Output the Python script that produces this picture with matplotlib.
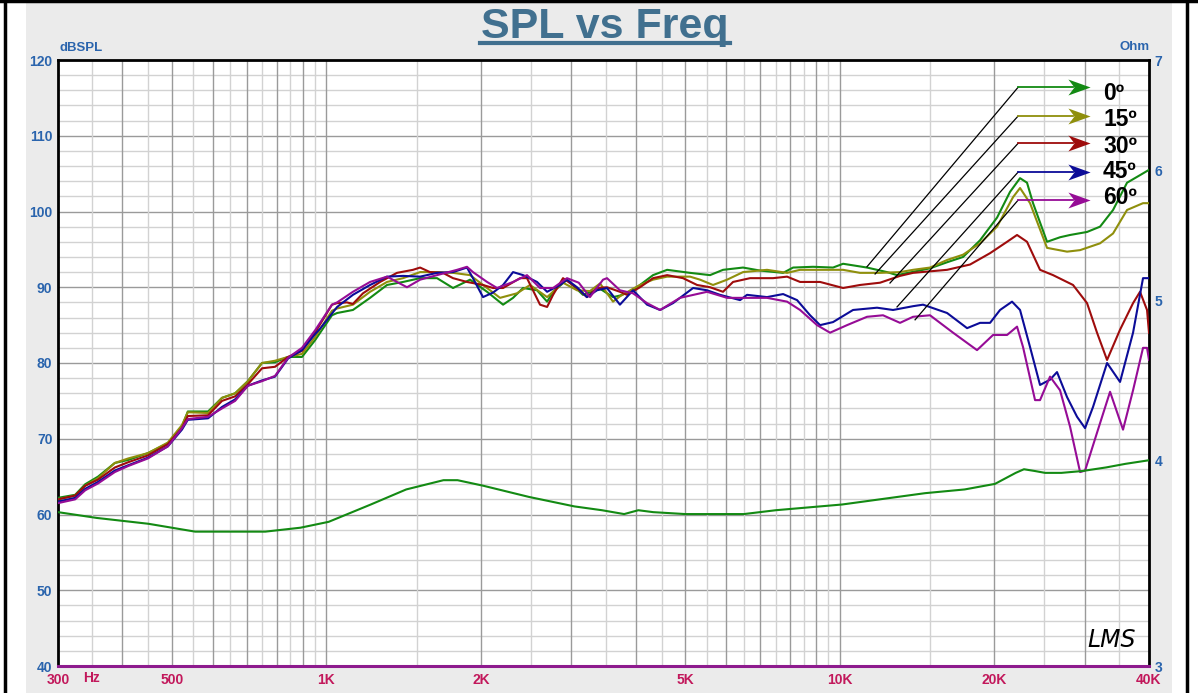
import matplotlib
matplotlib.use("Agg")
from matplotlib import pyplot as plt
from matplotlib.lines import Line2D
from matplotlib.patches import Rectangle
from matplotlib.path import Path
from matplotlib.transforms import ScaledTranslation
from matplotlib.ticker import NullLocator

plt.rcParams["font.family"] = ["Liberation Sans", "DejaVu Sans"]

# impedance curve (Ohm, right axis)
IMP_FREQ = [300, 357, 450, 555, 650, 760, 890, 1010, 1220, 1430, 1690, 1800, 2020,
            2480, 3040, 3440, 3800, 4050, 4330, 5000, 5500, 6500, 7500, 10100, 14650,
            17500, 20050, 22000, 22830, 24000, 25100, 27000, 29630, 33000, 36000, 40000]
IMP_OHM = [3.72, 3.69, 3.66, 3.62, 3.62, 3.62, 3.64, 3.67, 3.76, 3.84, 3.89, 3.89, 3.86,
           3.80, 3.75, 3.73, 3.71, 3.73, 3.72, 3.71, 3.71, 3.71, 3.73, 3.76, 3.82,
           3.84, 3.87, 3.93, 3.95, 3.94, 3.93, 3.93, 3.94, 3.96, 3.98, 4.00]

# SPL curves (dB)
FREQ_0 = [300, 324, 339, 359, 387, 411, 449, 491, 523, 537, 588, 626, 664, 703, 749, 794,
          842, 896, 950, 1025, 1049, 1126, 1216, 1312, 1410, 1522, 1642, 1764, 1904, 2055,
          2208, 2309, 2415, 2571, 2690, 2763, 2941, 3159, 3411, 3615, 3729, 3954, 4080, 4326,
          4608, 5107, 5586, 5921, 6477, 6993, 7752, 8107, 8866, 9697, 10144, 11294, 12355,
          12922, 14982, 16173, 17376, 18749, 20236, 21451, 22433, 23147, 23780, 25321, 26840,
          28073, 30298, 32118, 34044, 36247, 38421, 40000]
SPL_0 = [62.2, 62.6, 64.0, 65.0, 66.8, 67.2, 68.1, 69.4, 71.6, 73.6, 73.6, 75.4, 76.0, 77.6,
         80.0, 80.1, 80.8, 80.8, 83.0, 86.3, 86.6, 87.0, 88.6, 90.3, 90.7, 91.2, 91.2, 89.9,
         91.0, 89.4, 87.7, 88.6, 89.9, 89.6, 88.1, 89.4, 91.0, 89.0, 89.8, 88.7, 88.9, 89.6,
         90.3, 91.6, 92.3, 91.9, 91.6, 92.3, 92.6, 92.2, 91.9, 92.6, 92.7, 92.6, 93.1, 92.6,
         92.0, 91.6, 92.5, 93.3, 94.0, 96.2, 99.2, 102.6, 104.4, 103.8, 101.1, 96.0, 96.6,
         96.9, 97.3, 98.0, 100.2, 103.8, 104.8, 105.5]

FREQ_15 = [300, 324, 339, 359, 387, 411, 449, 491, 523, 537, 588, 626, 664, 703, 749, 794,
           842, 896, 950, 1025, 1049, 1126, 1216, 1312, 1410, 1522, 1642, 1764, 1904, 2055,
           2178, 2350, 2492, 2690, 2889, 3076, 3260, 3411, 3615, 3729, 3954, 4080, 4326, 4608,
           5107, 5341, 5661, 6030, 6477, 7212, 7891, 8365, 9150, 10144, 10944, 11973, 13096,
           13883, 14982, 16173, 17376, 18749, 20236, 21743, 22433, 23463, 25321, 27698, 29365,
           32118, 34044, 36247, 38941, 40000]
SPL_15 = [62.0, 62.5, 63.8, 64.8, 66.8, 67.4, 68.1, 69.5, 71.8, 73.5, 73.4, 75.4, 76.0, 77.6,
          80.0, 80.3, 80.8, 81.2, 83.4, 86.9, 87.2, 87.7, 89.4, 90.7, 91.2, 92.0, 92.0, 91.9,
          91.6, 89.9, 88.6, 89.2, 90.3, 88.7, 90.6, 89.6, 89.5, 90.5, 88.1, 88.8, 89.8, 90.3,
          91.0, 91.4, 91.4, 91.0, 90.3, 91.0, 92.0, 92.3, 91.9, 92.3, 92.3, 92.3, 91.9, 91.9,
          92.0, 92.3, 92.6, 93.6, 94.3, 95.8, 98.0, 101.9, 103.1, 101.1, 95.2, 94.7, 94.9,
          95.8, 97.1, 100.2, 101.1, 101.1]

FREQ_30 = [300, 324, 339, 359, 387, 411, 449, 491, 523, 537, 588, 626, 664, 703, 749, 794,
           842, 896, 950, 1025, 1049, 1096, 1126, 1178, 1272, 1372, 1474, 1522, 1591, 1686,
           1764, 1878, 2018, 2111, 2208, 2383, 2458, 2606, 2690, 2763, 2889, 3076, 3216, 3365,
           3519, 3729, 3848, 4080, 4326, 4608, 4948, 5271, 5586, 5921, 6193, 6684, 7409, 7891,
           8365, 9150, 10144, 10944, 11973, 13096, 13883, 16173, 17929, 19611, 21164, 22133,
           23147, 24537, 26013, 28452, 30298, 31684, 33142, 35128, 37238, 38421, 39648, 40000]
SPL_30 = [62.0, 62.5, 63.8, 64.6, 66.2, 66.9, 67.8, 69.3, 71.4, 73.0, 73.1, 75.0, 75.6, 77.2,
          79.3, 79.5, 80.8, 81.6, 84.0, 87.7, 87.9, 88.0, 87.8, 89.2, 90.7, 91.9, 92.3, 92.6,
          92.0, 91.9, 91.2, 90.7, 90.3, 89.9, 89.9, 91.2, 91.2, 87.7, 87.4, 89.0, 91.2, 89.9,
          88.7, 89.9, 90.0, 89.4, 89.0, 90.0, 91.2, 91.6, 91.2, 90.3, 90.0, 89.4, 90.7, 91.2,
          91.2, 91.4, 90.7, 90.7, 89.9, 90.3, 90.6, 91.5, 91.9, 92.3, 93.0, 94.5, 96.0, 96.9,
          96.0, 92.3, 91.6, 90.3, 87.9, 84.0, 80.4, 84.4, 87.9, 89.4, 87.0, 84.0]

FREQ_45 = [300, 324, 339, 359, 387, 411, 449, 491, 523, 537, 588, 626, 664, 703, 749, 794,
           842, 896, 950, 971, 1049, 1126, 1216, 1312, 1410, 1522, 1642, 1764, 1878, 1929,
           2018, 2111, 2208, 2309, 2415, 2571, 2690, 2851, 2941, 3076, 3216, 3365, 3519, 3729,
           3954, 4212, 4465, 4731, 5177, 5512, 5842, 6391, 6594, 7212, 7752, 8253, 8749, 9150,
           9697, 10607, 11812, 12692, 13883, 14521, 16173, 17691, 18749, 19611, 20510, 21643,
           22433, 23463, 24537, 25663, 26479, 27698, 28968, 30028, 31120, 33142, 35128, 37238,
           38941, 40000]
SPL_45 = [61.7, 62.2, 63.4, 64.3, 65.8, 66.5, 67.5, 69.0, 71.2, 72.5, 72.7, 74.2, 75.2, 77.0,
          77.7, 78.2, 80.6, 81.7, 83.8, 84.5, 87.4, 89.0, 90.3, 91.4, 91.5, 91.4, 91.9, 92.0,
          92.6, 91.2, 88.7, 89.3, 90.3, 92.0, 91.6, 90.7, 89.4, 90.3, 91.0, 90.0, 88.7, 89.6,
          89.9, 87.7, 89.6, 87.7, 87.0, 87.9, 89.9, 89.6, 89.0, 88.3, 89.0, 88.7, 89.1, 88.3,
          86.3, 85.0, 85.4, 87.0, 87.3, 87.0, 87.5, 87.7, 86.6, 84.6, 85.3, 85.3, 87.0, 88.1,
          87.0, 82.1, 77.1, 77.8, 78.8, 75.5, 72.9, 71.4, 74.2, 80.0, 77.5, 84.0, 91.2, 91.2]

FREQ_60 = [300, 324, 339, 359, 387, 411, 449, 491, 523, 537, 588, 626, 664, 703, 749, 794,
           842, 896, 950, 1025, 1049, 1126, 1216, 1312, 1372, 1435, 1522, 1642, 1796, 1878,
           1929, 2055, 2149, 2309, 2458, 2606, 2763, 2941, 3100, 3260, 3457, 3519, 3729, 3954,
           4212, 4465, 4882, 5512, 6030, 6594, 7212, 7891, 8365, 9027, 9568, 10327, 11294,
           12134, 13096, 13883, 14982, 16613, 18497, 19876, 21164, 22133, 22737, 23994, 24537,
           25663, 26840, 28073, 29365, 30028, 31684, 33590, 35603, 37238, 38941, 39648, 40000]
SPL_60 = [61.5, 62.0, 63.2, 64.1, 65.6, 66.4, 67.4, 69.0, 71.4, 72.6, 72.9, 74.0, 75.0, 77.0,
          77.6, 78.3, 80.7, 82.0, 84.3, 87.7, 88.0, 89.4, 90.7, 91.4, 90.7, 90.0, 91.0, 91.6,
          92.3, 92.7, 92.0, 90.7, 89.9, 90.7, 91.6, 89.9, 89.9, 91.2, 90.6, 88.7, 91.0, 91.2,
          89.6, 89.2, 87.9, 87.0, 88.6, 89.4, 88.6, 88.6, 88.6, 88.1, 87.0, 85.0, 84.0, 85.0,
          86.1, 86.3, 85.3, 86.1, 86.3, 84.0, 81.7, 83.7, 83.7, 84.8, 82.1, 75.1, 75.1, 78.2,
          76.4, 71.6, 65.6, 65.8, 70.8, 76.2, 71.2, 76.4, 82.0, 82.0, 80.4]

LABELS = ["0º", "15º", "30º", "45º", "60º"]
COLORS = ["#138a13", "#8f8f0c", "#9e0c0c", "#0c0c98", "#960c96"]

W, H = 1198, 693
BLUE = "#2a64ad"
CRIMSON = "#c2185b"

# notched arrow head, tip at +1
HEAD = Path([(1, 0), (-1, 0.72), (-0.45, 0), (-1, -0.72), (1, 0)],
            [Path.MOVETO, Path.LINETO, Path.LINETO, Path.LINETO, Path.CLOSEPOLY])


def fx(x):
    return x / W


def fy(y):
    return 1 - y / H


def plot():
    fig = plt.figure(figsize=(W / 100, H / 100), dpi=100)
    fig.patch.set_facecolor("white")
    fig.add_artist(Rectangle((fx(26), 0), fx(1172) - fx(26), fy(3), transform=fig.transFigure,
                             facecolor="#ebebeb", edgecolor="none", zorder=-10))
    for xs, ys in [([0, 1], [fy(1), fy(1)]), ([fx(4.5)] * 2, [0, 1]), ([fx(1187)] * 2, [0, 1])]:
        fig.add_artist(Line2D(xs, ys, transform=fig.transFigure, color="black", lw=2.5))

    ax = fig.add_axes([fx(58), fy(666), fx(1149) - fx(58), fy(60) - fy(666)])
    ax.set_xscale("log")
    ax.set_xlim(300, 40000)
    ax.set_ylim(40, 120)

    # grid
    for v in range(42, 120, 2):
        ax.axhline(v, color="#9a9a9a" if v % 10 == 0 else "#d2d2d2", lw=1, zorder=0)
    vlines = []
    for dec, top in [(100, 1000), (1000, 10000), (10000, 40000)]:
        f = 3 * dec if dec == 100 else dec
        while f <= top:
            vlines.append(f)
            f += dec // 2
    for f in sorted(set(vlines)):
        if f in (300, 40000):
            continue
        dark = any(f % d == 0 and f // d < 10 for d in (100, 1000, 10000))
        ax.axvline(f, color="#9a9a9a" if dark else "#d2d2d2", lw=1, zorder=0)

    curves = [(FREQ_0, SPL_0), (FREQ_15, SPL_15), (FREQ_30, SPL_30),
              (FREQ_45, SPL_45), (FREQ_60, SPL_60)]
    for (fr, spl), c in zip(curves, COLORS):
        ax.plot(fr, spl, color=c, lw=1.5, zorder=3)

    for side in ["left", "top", "right"]:
        ax.spines[side].set_linewidth(2)
        ax.spines[side].set_color("black")
    ax.spines["bottom"].set_linewidth(2.2)
    ax.spines["bottom"].set_color("#8e1b8e")

    ax.set_yticks(range(40, 121, 10))
    ax.yaxis.set_minor_locator(NullLocator())
    ax.tick_params(axis="y", length=0, pad=4, labelsize=10, labelcolor=BLUE)
    ax.set_xticks([300, 500, 1000, 2000, 5000, 10000, 20000, 40000],
                  ["300", "500", "1K", "2K", "5K", "10K", "20K", "40K"])
    ax.xaxis.set_minor_locator(NullLocator())
    ax.tick_params(axis="x", length=0, pad=5, labelsize=10, labelcolor=CRIMSON)
    for lbl in ax.get_xticklabels() + ax.get_yticklabels():
        lbl.set_fontweight("bold")

    ax2 = ax.twinx()
    ax2.set_yscale("log")
    ax2.set_ylim(3, 7)
    ax2.set_xlim(300, 40000)
    ax2.plot(IMP_FREQ, IMP_OHM, color=COLORS[0], lw=1.5)
    ax2.set_yticks([3, 4, 5, 6, 7], ["3", "4", "5", "6", "7"])
    ax2.yaxis.set_minor_locator(NullLocator())
    ax2.tick_params(axis="y", length=0, pad=4, labelsize=10, labelcolor=BLUE)
    for lbl in ax2.get_yticklabels():
        lbl.set_fontweight("bold")
    for s in ax2.spines.values():
        s.set_visible(False)

    # legend arrows with leader lines
    anchors = [(11290, 92.7), (11710, 91.75), (12520, 90.56), (12920, 87.4), (14010, 85.7)]
    arrow_y = [116.4, 112.6, 109.0, 105.2, 101.5]
    text_y = [115.6, 112.2, 108.6, 105.3, 101.8]
    head_tr = ax.transData + ScaledTranslation(-11 / 100, 0, fig.dpi_scale_trans)
    for (af, adb), ay, ty, lab, c in zip(anchors, arrow_y, text_y, LABELS, COLORS):
        ax.plot([af, 22240], [adb, ay], color="black", lw=0.9, zorder=4)
        ax.plot([22240, 28400], [ay, ay], color=c, lw=1.3, zorder=4)
        ax.plot([30700], [ay], marker=HEAD, markersize=16, color=c, mec=c, mew=0,
                transform=head_tr, zorder=5, clip_on=False)
        ax.text(32550, ty, lab, fontsize=16.5, fontweight="bold", va="center", ha="left",
                zorder=6)

    fig.text(fx(605), fy(38), "SPL vs Freq", ha="center", va="baseline", fontsize=31,
             fontweight="bold", color="#41708f")
    fig.add_artist(Line2D([fx(480), fx(730)], [fy(43), fy(43)], transform=fig.transFigure,
                          color="#41708f", lw=3))
    fig.text(fx(59), fy(48), "dBSPL", ha="left", va="center", fontsize=9.5,
             fontweight="bold", color=BLUE)
    fig.text(fx(1150), fy(47), "Ohm", ha="right", va="center", fontsize=9.5,
             fontweight="bold", color=BLUE)
    fig.text(fx(91), fy(678), "Hz", ha="center", va="center", fontsize=10,
             fontweight="bold", color=CRIMSON)
    fig.text(fx(1112), fy(640), "LMS", ha="center", va="center", fontsize=17,
             style="italic", family="DejaVu Sans", fontweight="light", color="black")
    return fig


if __name__ == "__main__":
    fig = plot()
    fig.savefig("out.png", dpi=100)
